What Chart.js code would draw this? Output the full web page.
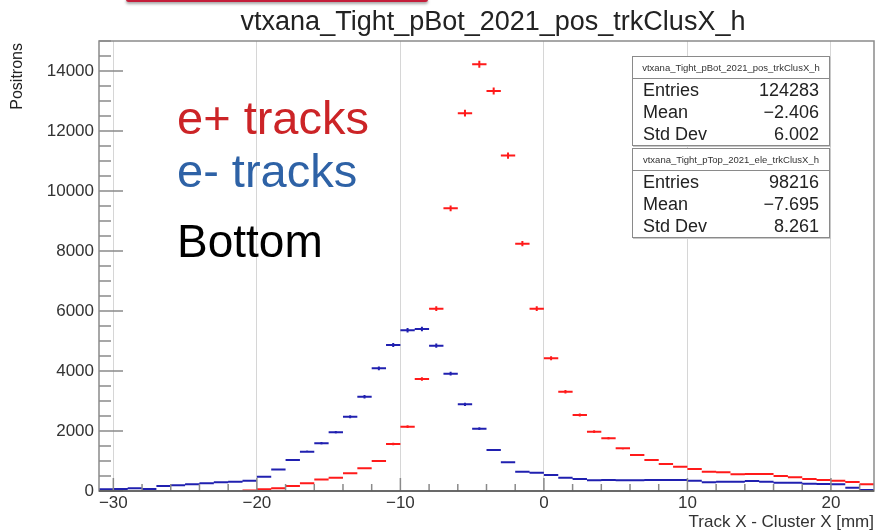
<!DOCTYPE html>
<html>
<head>
<meta charset="utf-8">
<script src="https://cdn.jsdelivr.net/npm/chart.js@4.4.0/dist/chart.umd.min.js"></script>
<style>
    html, body { margin: 0; padding: 0; background: #fff; }
    #wrap { position: relative; width: 877px; height: 531px; overflow: hidden; font-family: "Liberation Sans", Arial, sans-serif; }
    #wrap canvas { position: absolute; left: 0; top: 0; }
    .txt { position: absolute; white-space: nowrap; line-height: 1; }
    .slideBar { position: absolute; left: 126px; top: -3px; width: 302px; height: 5px; background: #c41e3a; border-radius: 3px; box-shadow: 0 2px 3px rgba(0, 0, 0, 0.35); }
    .stats { position: absolute; left: 632px; width: 196px; background: #fff; border: 1px solid #8a8a8a; box-shadow: 1px 1px 0 #c8c8c8; color: #222; }
    .stats .head { height: 21px; line-height: 21px; border-bottom: 1px solid #8a8a8a; font-size: 9.5px; text-align: center; color: #333; }
    .stats .row { height: 22px; line-height: 22px; font-size: 18px; display: flex; justify-content: space-between; padding: 0 10px 0 10px; }
</style>
</head>
<body>
<div id="wrap">
    <canvas id="histCanvas" width="877" height="531"></canvas>
    <div class="slideBar"></div>
    <div class="txt" id="plotTitle" style="left: 493px; top: 8px; font-size: 27px; color: #222; transform: translateX(-50%);">vtxana_Tight_pBot_2021_pos_trkClusX_h</div>
    <div class="txt" style="left: 9px; top: 243px; width: 200px; text-align: right; font-size: 16px; color: #222; transform: rotate(-90deg); transform-origin: left top;">Positrons</div>
    <div class="txt" style="right: 3px; top: 513px; font-size: 17px; color: #333;">Track X - Cluster X [mm]</div>
    <div class="txt" style="left: 177px; top: 94px; font-size: 47px; color: #cc2427;">e+ tracks</div>
    <div class="txt" style="left: 177px; top: 147px; font-size: 47px; color: #2e62a6;">e- tracks</div>
    <div class="txt" style="left: 177px; top: 218px; font-size: 46px; color: #000;">Bottom</div>
    <div class="stats" style="top: 56px;">
        <div class="head">vtxana_Tight_pBot_2021_pos_trkClusX_h</div>
        <div class="row"><span>Entries</span><span>124283</span></div>
        <div class="row"><span>Mean</span><span>&minus;2.406</span></div>
        <div class="row"><span>Std Dev</span><span>6.002</span></div>
    </div>
    <div class="stats" style="top: 148px;">
        <div class="head">vtxana_Tight_pTop_2021_ele_trkClusX_h</div>
        <div class="row"><span>Entries</span><span>98216</span></div>
        <div class="row"><span>Mean</span><span>&minus;7.695</span></div>
        <div class="row"><span>Std Dev</span><span>8.261</span></div>
    </div>
</div>
<script>
// bin centres, 1 mm bins from -31 to 23
const binCenters = [
    -30.5, -29.5, -28.5, -27.5, -26.5, -25.5, -24.5, -23.5, -22.5, -21.5,
    -20.5, -19.5, -18.5, -17.5, -16.5, -15.5, -14.5, -13.5, -12.5, -11.5,
    -10.5, -9.5, -8.5, -7.5, -6.5, -5.5, -4.5, -3.5, -2.5, -1.5,
    -0.5, 0.5, 1.5, 2.5, 3.5, 4.5, 5.5, 6.5, 7.5, 8.5,
    9.5, 10.5, 11.5, 12.5, 13.5, 14.5, 15.5, 16.5, 17.5, 18.5,
    19.5, 20.5, 21.5, 22.5
];

// e+ (red) counts per bin, null = empty bin
const positronCounts = [
    null, null, null, null, null, null, null, null, null, null,
    20, 57, 90, 167, 257, 380, 443, 590, 757, 1000,
    1567, 2143, 3733, 6077, 9423, 12595, 14225, 13333, 11180, 8245,
    6077, 4425, 3310, 2533, 1977, 1757, 1423, 1200, 1033, 900,
    810, 733, 643, 623, 560, 567, 567, 500, 456, 400,
    367, 344, 300, 223
];

// e- (blue) counts per bin
const electronCounts = [
    57, 67, 90, 67, 167, 190, 223, 257, 290, 310,
    343, 477, 715, 1033, 1310, 1590, 1957, 2477, 3143, 4090,
    4867, 5357, 5400, 4843, 3910, 2890, 2077, 1367, 957, 643,
    610, 533, 443, 400, 357, 367, 357, 357, 367, 367,
    367, 344, 290, 310, 310, 333, 310, 277, 277, 243,
    233, 223, 110, 33
];

const xTickValues = [-30, -20, -10, 0, 10, 20];
const xTickLabels = ["\u221230", "\u221220", "\u221210", "0", "10", "20"];
const yTickValues = [0, 2000, 4000, 6000, 8000, 10000, 12000, 14000];
const yTickLabels = ["0", "2000", "4000", "6000", "8000", "10000", "12000", "14000"];

const binWidth = 1;
const xMin = -31;
const xMax = 23;
const yMax = 15000;

const toPoints = (counts) => binCenters.map((x, i) => ({ x, y: counts[i] }));

// ROOT-like frame with inward ticks
const frameTicks = {
    id: "frameTicks",
    afterDraw(chart) {
        const { ctx, chartArea: a, scales } = chart;
        const xs = scales.x;
        const ys = scales.y;
        ctx.save();
        ctx.strokeStyle = "#8a8a8a";
        ctx.lineWidth = 1.5;
        ctx.strokeRect(a.left, a.top, a.right - a.left, a.bottom - a.top);
        ctx.beginPath();
        for (let v = -30; v <= xMax; v += 2) {
            const px = xs.getPixelForValue(v);
            const len = v % 10 === 0 ? 13 : 7;
            ctx.moveTo(px, a.bottom);
            ctx.lineTo(px, a.bottom - len);
        }
        for (let v = 0; v <= yMax; v += 500) {
            const py = ys.getPixelForValue(v);
            const len = v % 2000 === 0 ? 24 : 12;
            ctx.moveTo(a.left, py);
            ctx.lineTo(a.left + len, py);
        }
        ctx.stroke();
        // darker bottom axis line
        ctx.strokeStyle = "#555";
        ctx.beginPath();
        ctx.moveTo(a.left, a.bottom);
        ctx.lineTo(a.right, a.bottom);
        ctx.stroke();
        ctx.restore();
    },
};

// histogram markers: horizontal bar over the bin plus sqrt(N) vertical error
const errorBars = {
    id: "errorBars",
    afterDatasetsDraw(chart) {
        const { ctx, scales } = chart;
        const xs = scales.x;
        const ys = scales.y;
        ctx.save();
        ctx.beginPath();
        ctx.rect(chart.chartArea.left, chart.chartArea.top, chart.chartArea.right - chart.chartArea.left, chart.chartArea.bottom - chart.chartArea.top);
        ctx.clip();
        chart.data.datasets.forEach((ds) => {
            ctx.strokeStyle = ds.borderColor;
            ctx.lineWidth = 2;
            ctx.beginPath();
            ds.data.forEach((p) => {
                if (p.y == null) return;
                const py = ys.getPixelForValue(p.y);
                ctx.moveTo(xs.getPixelForValue(p.x - binWidth / 2), py);
                ctx.lineTo(xs.getPixelForValue(p.x + binWidth / 2), py);
                const err = Math.sqrt(p.y);
                const cx = xs.getPixelForValue(p.x);
                ctx.moveTo(cx, ys.getPixelForValue(p.y + err));
                ctx.lineTo(cx, ys.getPixelForValue(Math.max(0, p.y - err)));
            });
            ctx.stroke();
        });
        ctx.restore();
    },
};

const tickFont = { family: "'Liberation Sans', Arial, sans-serif", size: 17 };

new Chart(document.getElementById("histCanvas"), {
    type: "scatter",
    data: {
        datasets: [
            { label: "e+ tracks", data: toPoints(positronCounts), borderColor: "#ff1a1a", backgroundColor: "#ff1a1a", pointRadius: 0, showLine: false },
            { label: "e- tracks", data: toPoints(electronCounts), borderColor: "#2020b0", backgroundColor: "#2020b0", pointRadius: 0, showLine: false },
        ],
    },
    options: {
        responsive: false,
        animation: false,
        devicePixelRatio: 1,
        layout: { padding: { top: 41, right: 3, left: 0, bottom: 0 } },
        plugins: {
            legend: { display: false },
            title: { display: false },
            tooltip: { enabled: false },
        },
        scales: {
            x: {
                type: "linear",
                min: xMin,
                max: xMax,
                afterBuildTicks: (scale) => { scale.ticks = xTickValues.map((value) => ({ value })); },
                afterFit: (scale) => { scale.height = 40; },
                ticks: {
                    color: "#333",
                    font: tickFont,
                    padding: 2,
                    maxRotation: 0,
                    autoSkip: false,
                    callback: (value) => xTickLabels[xTickValues.indexOf(value)],
                },
                grid: { color: "#d6d6d6", lineWidth: 1, drawTicks: false },
                border: { display: false },
            },
            y: {
                type: "linear",
                min: 0,
                max: yMax,
                afterBuildTicks: (scale) => { scale.ticks = yTickValues.map((value) => ({ value })); },
                afterFit: (scale) => { scale.width = 99; },
                ticks: {
                    color: "#333",
                    font: tickFont,
                    padding: 5,
                    autoSkip: false,
                    callback: (value) => yTickLabels[yTickValues.indexOf(value)],
                },
                grid: { display: false, drawTicks: false },
                border: { display: false },
            },
        },
    },
    plugins: [errorBars, frameTicks],
});
</script>
</body>
</html>
